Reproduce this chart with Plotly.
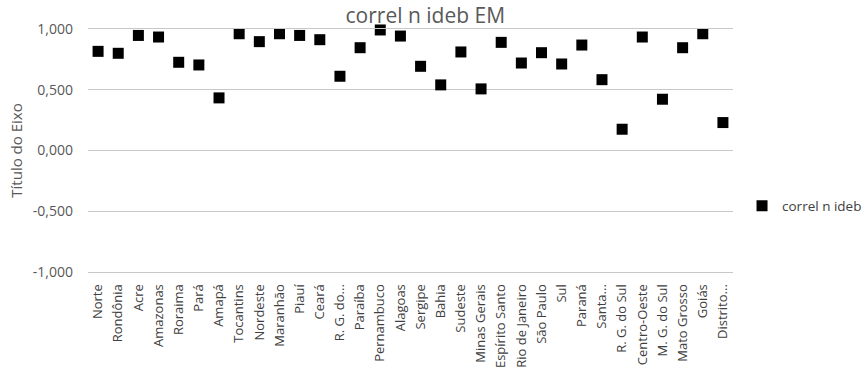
import plotly.graph_objects as go

# Regions and states (labels as shown on the category axis)
categorias = [
    "Norte", "Rondônia", "Acre", "Amazonas", "Roraima", "Pará", "Amapá",
    "Tocantins", "Nordeste", "Maranhão", "Piauí", "Ceará", "R. G. do...",
    "Paraíba", "Pernambuco", "Alagoas", "Sergipe", "Bahia", "Sudeste",
    "Minas Gerais", "Espírito Santo", "Rio de Janeiro", "São Paulo", "Sul",
    "Paraná", "Santa...", "R. G. do Sul", "Centro-Oeste", "M. G. do Sul",
    "Mato Grosso", "Goiás", "Distrito...",
]

# Correlation n x IDEB (Ensino Médio)
correl = [
    0.816, 0.800, 0.947, 0.934, 0.726, 0.704, 0.433,
    0.961, 0.896, 0.961, 0.947, 0.912, 0.611,
    0.846, 0.992, 0.942, 0.693, 0.540, 0.811,
    0.507, 0.890, 0.720, 0.805, 0.712,
    0.868, 0.583, 0.175, 0.934, 0.422,
    0.846, 0.961, 0.230,
]

y_ticks = [-1.0, -0.5, 0.0, 0.5, 1.0]
y_tick_labels = ["-1,000", "-0,500", "0,000", "0,500", "1,000"]

FONT = "Open Sans, Liberation Sans, sans-serif"
GRAY = "#595959"
DARK = "#404040"
GRID = "#c8c8c8"

fig = go.Figure()
fig.add_trace(go.Scatter(
    x=categorias,
    y=correl,
    mode="markers",
    name="correl n ideb",
    cliponaxis=False,
    marker=dict(symbol="square", size=11, color="#000000",
                line=dict(width=0)),
))

fig.update_layout(
    width=868,
    height=371,
    margin=dict(l=88, r=135, t=29, b=99, autoexpand=False),
    paper_bgcolor="white",
    plot_bgcolor="white",
    font=dict(family=FONT, color=GRAY, size=14),
    title=dict(
        text="correl n ideb EM",
        x=0.49, xanchor="center",
        y=0.958, yanchor="middle",
        font=dict(family=FONT, size=21, color=GRAY),
    ),
    showlegend=True,
    legend=dict(
        x=1.014, xanchor="left",
        y=0.272, yanchor="middle",
        font=dict(family=FONT, size=13.5, color=DARK),
        itemwidth=30,
        bgcolor="rgba(0,0,0,0)",
    ),
    xaxis=dict(
        type="category",
        range=[-0.5, len(categorias) - 0.5],
        tickangle=-90,
        showgrid=False,
        showline=True,
        mirror=True,
        linecolor=GRID,
        linewidth=1,
        zeroline=False,
        ticks="",
        ticklabelstandoff=6,
        tickfont=dict(family=FONT, size=13, color=DARK),
    ),
    yaxis=dict(
        range=[-1.0, 1.0],
        tickvals=y_ticks,
        ticktext=y_tick_labels,
        showgrid=True,
        gridcolor=GRID,
        gridwidth=1,
        zeroline=False,
        showline=False,
        ticks="",
        ticklabelstandoff=14,
        tickfont=dict(family=FONT, size=14, color=GRAY),
        title=dict(text="Título do Eixo", standoff=6,
                   font=dict(family=FONT, size=15, color=GRAY)),
    ),
)

fig.write_html("out.html")
